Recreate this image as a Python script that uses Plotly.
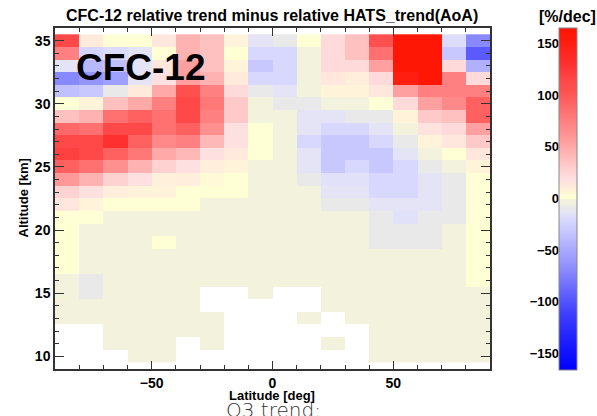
import plotly.graph_objects as go

# ---------------- data ----------------
latitude = [-85, -75, -65, -55, -45, -35, -25, -15, -5, 5, 15, 25, 35, 45, 55, 65, 75, 85]
altitude_top_down = [35, 34, 33, 32, 31, 30, 29, 28, 27, 26, 25, 24, 23, 22, 21, 20, 19, 18, 17, 16, 15, 14, 13, 12, 11, 10]
N = None
trend_top_down = [
    [115, 12, 3, 3, 14, 45, 38, 7, -13, -8, 3, 22, 38, 105, 160, 160, -17, -70],        # 35
    [75, -22, -18, -13, 3, 45, 38, 3, -20, -20, -3, 22, 38, 85, 160, 160, -30, -95],    # 34
    [-13, -40, -35, -13, 14, 55, 38, 7, -30, -20, -3, 22, 22, 55, 160, 160, 22, -45],   # 33
    [-70, -62, -55, -13, 18, 55, 45, 12, -20, -20, -3, 14, 10, 22, 150, 160, 75, 22],   # 32
    [-35, -30, -8, 12, 50, 105, 75, 22, -8, -13, -3, 7, 7, 14, 55, 75, 75, 75],         # 31
    [3, 7, 38, 50, 75, 115, 80, 33, -3, -8, -8, -3, -3, 3, 22, 55, 70, 95],             # 30
    [38, 45, 85, 95, 85, 115, 75, 33, -3, -3, -13, -13, -8, -8, 7, 33, 38, 95],         # 29
    [90, 85, 115, 115, 85, 95, 65, 18, 3, -3, -13, -20, -20, -13, -3, 16, 22, 55],      # 28
    [115, 115, 130, 95, 70, 75, 42, 18, 3, -3, -20, -30, -30, -20, -8, 7, 14, 33],      # 27
    [120, 115, 95, 80, 50, 42, 18, 12, 3, -3, -13, -30, -30, -30, -13, -3, 3, 14],      # 26
    [95, 85, 65, 45, 28, 18, 10, 7, -3, -3, -13, -30, -20, -30, -20, -8, -3, 7],        # 25
    [60, 45, 28, 18, 9, 10, 5, 3, -3, -3, -8, -15, -15, -20, -20, -13, -8, 3],          # 24
    [28, 18, 10, 7, 7, 3, 3, 3, -3, -3, -3, -13, -13, -20, -20, -13, -8, 3],            # 23
    [14, 7, 3, 3, 3, 3, -3, -3, -3, -3, -3, -8, -8, -13, -13, -13, -8, 3],              # 22
    [3, 3, -3, -3, -3, -3, -3, -3, -3, -3, -3, -3, -3, -8, -15, -8, -8, 3],             # 21
    [3, -3, -3, -3, -3, -3, -3, -3, -3, -3, -3, -3, -3, -8, -8, -8, -3, 3],             # 20
    [3, -3, -3, -3, 3, -3, -3, -3, -3, -3, -3, -3, -3, -8, -8, -8, -3, 3],              # 19
    [3, -3, -3, -3, -3, -3, -3, -3, -3, -3, -3, -3, -3, -3, -3, -3, -3, 3],             # 18
    [3, -3, -3, -3, -3, -3, -3, -3, -3, -3, -3, -3, -3, -3, -3, -3, -3, 3],             # 17
    [-3, -8, -3, -3, -3, -3, -3, -3, -3, -3, -3, -3, -3, -3, -3, -3, -3, 3],            # 16
    [-3, -8, -3, -3, -3, -3, N, N, -3, N, N, -3, -3, -3, -3, -3, -3, -3],               # 15
    [-3, -3, -3, -3, -3, -3, N, N, N, N, N, -3, -3, -3, -3, -3, -3, -3],                # 14
    [-3, -3, -3, -3, -3, -3, -3, N, N, N, -3, N, -3, -3, -3, -3, -3, -3],               # 13
    [N, N, -3, -3, -3, -3, -3, N, N, N, N, N, N, -3, -3, -3, -3, -3],                   # 12
    [N, N, -3, -3, -3, N, -3, N, N, N, N, -3, N, -3, -3, -3, -3, -3],                   # 11
    [N, N, N, -3, -3, N, N, N, N, N, N, N, N, -3, -3, -3, -3, -3],                      # 10
]
altitude = altitude_top_down[::-1]
trend = trend_top_down[::-1]

y_ticks = [10, 15, 20, 25, 30, 35]
x_ticks = [-50, 0, 50]
cbar_ticks = [-150, -100, -50, 0, 50, 100, 150]

# colour map (value -> colour)
cmap_vals = [-165, -140, -110, -95, -70, -55, -45, -30, -20, -13, -8, -3, -0.01,
             0, 3, 7, 12, 18, 28, 38, 45, 55, 65, 75, 85, 95, 105, 115, 130, 150, 165]
cmap_cols = ["#0000ff", "#1a1aff", "#4040ff", "#5a5aff", "#8888ff", "#a0a0ff", "#b0b0ff",
             "#c8c8ff", "#d8d8ff", "#e4e4f6", "#e9e9e9", "#f3f3dd", "#f3f3dd",
             "#ffffd6", "#ffffd6", "#fff4da", "#ffeadc", "#ffe0e0", "#ffd2d2", "#ffc0c0",
             "#ffb2b2", "#ffa0a0", "#ff9090", "#ff8080", "#ff7070", "#ff6060", "#ff5050",
             "#ff4848", "#ff3030", "#ff1e10", "#ff1400"]
zmin, zmax = -165, 165
colorscale = [[(v - zmin) / (zmax - zmin), c] for v, c in zip(cmap_vals, cmap_cols)]

# ---------------- figure ----------------
W, H = 597, 416
ml, mr, mt, mb = 55, 0, 28, 47
plot_w = 435
paper_w = W - ml - mr
dom = plot_w / paper_w

bold = dict(family="Liberation Sans, Arial, sans-serif", color="black", weight="bold")

fig = go.Figure()
fig.add_trace(go.Heatmap(
    x=latitude, y=altitude, z=trend,
    zmin=zmin, zmax=zmax, colorscale=colorscale,
    hoverongaps=False,
    colorbar=dict(
        x=(559 - ml) / paper_w, xanchor="left", xpad=0,
        y=1, yanchor="top", ypad=0,
        len=342, lenmode="pixels", thickness=18,
        outlinewidth=1, outlinecolor="#888888",
        showticklabels=False, ticks="",
    ),
))
# invisible helper trace so the colour-bar label axis is drawn
fig.add_trace(go.Scatter(x=[0], y=[0], yaxis="y2", mode="markers",
                         marker=dict(opacity=0), hoverinfo="skip", showlegend=False))

axis_common = dict(showgrid=False, zeroline=False, showline=True, linecolor="#333333",
                   linewidth=1.5, ticks="inside", tickcolor="#333333", tickwidth=1.2,
                   mirror="ticks", tickfont=dict(size=14, **bold))

fig.update_layout(
    width=W, height=H,
    margin=dict(l=ml, r=mr, t=mt, b=mb, pad=0),
    paper_bgcolor="white", plot_bgcolor="white",
    showlegend=False,
    xaxis=dict(domain=[0, dom], range=[-90, 90], tickvals=x_ticks, ticklen=8,
               minor=dict(dtick=10, tick0=0, ticklen=4, ticks="inside", tickcolor="#333333"),
               **axis_common),
    yaxis=dict(range=[9, 36], tickvals=y_ticks, ticklen=9,
               minor=dict(dtick=1, tick0=0, ticklen=4.5, ticks="inside", tickcolor="#333333"),
               **axis_common),
    yaxis2=dict(overlaying="y", anchor="free", side="left",
                position=(559 - ml) / paper_w, range=[zmin, zmax],
                tickvals=cbar_ticks, ticks="inside", ticklen=4, tickcolor="#555555",
                minor=dict(dtick=10, tick0=0, ticklen=3, ticks="inside", tickcolor="#555555"),
                showgrid=False, zeroline=False, showline=False,
                tickfont=dict(size=13, **bold)),
)

def px_x(px):
    return (px - ml) / paper_w

def px_y(py):
    return 1 - (py - mt) / (H - mt - mb)

annotations = [
    dict(text="CFC-12 relative trend minus relative HATS_trend(AoA)", x=px_x(271.5), y=px_y(15),
         font=dict(size=16, **bold)),
    dict(text="[%/dec]", x=px_x(567.5), y=px_y(16), font=dict(size=16, **bold)),
    dict(text="CFC-12", x=px_x(141), y=px_y(67), font=dict(size=37, **bold)),
    dict(text="Altitude [km]", x=px_x(22.5), y=px_y(198), textangle=-90, font=dict(size=13, **bold)),
    dict(text="Latitude [deg]", x=px_x(272), y=px_y(395), font=dict(size=13, **bold)),
    dict(text="O3 trend:", x=px_x(273.5), y=px_y(410.5),
         font=dict(family="DejaVu Sans", size=20, color="#333333", weight=200)),
]
for a in annotations:
    fig.add_annotation(xref="paper", yref="paper", showarrow=False,
                       xanchor="center", yanchor="middle", **a)

fig.write_html("out.html")
